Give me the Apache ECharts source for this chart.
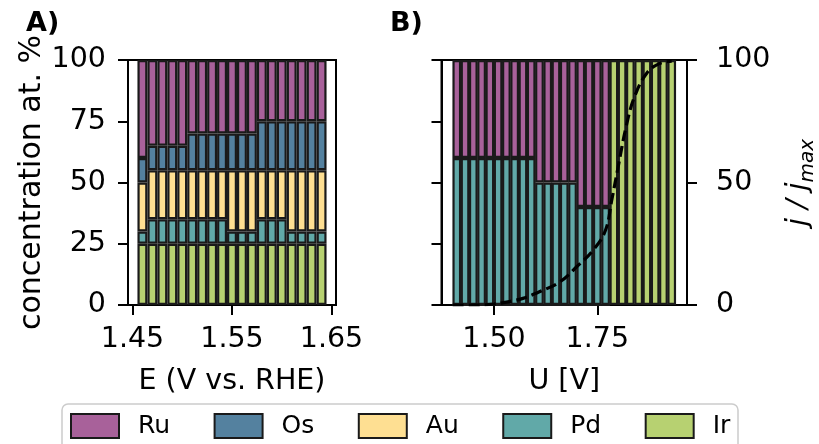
<!DOCTYPE html>
<html>
<head>
<meta charset="utf-8">
<script src="https://cdn.jsdelivr.net/npm/echarts@6/dist/echarts.min.js"></script>
<style>
  html, body { margin: 0; padding: 0; background: #fff; }
  #chart { width: 819px; height: 444px; }
</style>
</head>
<body>
<div id="chart"></div>
<script>
// ---- Panel A: surface composition (at. %) vs. electrode potential ----
const potentialA = [1.46, 1.47, 1.48, 1.49, 1.50, 1.51, 1.52, 1.53, 1.54, 1.55,
                    1.56, 1.57, 1.58, 1.59, 1.60, 1.61, 1.62, 1.63, 1.64];
const irA = [25, 25, 25, 25, 25, 25, 25, 25, 25, 25, 25, 25, 25, 25, 25, 25, 25, 25, 25];
const pdA = [5, 10, 10, 10, 10, 10, 10, 10, 10, 5, 5, 5, 10, 10, 10, 5, 5, 5, 5];
const auA = [20, 20, 20, 20, 20, 20, 20, 20, 20, 25, 25, 25, 20, 20, 20, 25, 25, 25, 25];
const osA = [10, 10, 10, 10, 10, 15, 15, 15, 15, 15, 15, 15, 20, 20, 20, 20, 20, 20, 20];
const ruA = [40, 35, 35, 35, 35, 30, 30, 30, 30, 30, 30, 30, 25, 25, 25, 25, 25, 25, 25];
const ticksA = [1.45, 1.55, 1.65];

// ---- Panel B: composition and normalised current vs. applied voltage ----
const potentialB = [1.41, 1.43, 1.45, 1.47, 1.49, 1.51, 1.53, 1.55, 1.57, 1.59,
                    1.61, 1.63, 1.65, 1.67, 1.69, 1.71, 1.73, 1.75, 1.77, 1.79,
                    1.81, 1.83, 1.85, 1.87, 1.89, 1.91, 1.93];
const pdB = [60, 60, 60, 60, 60, 60, 60, 60, 60, 60, 50, 50, 50, 50, 50, 40, 40, 40, 40,
             0, 0, 0, 0, 0, 0, 0, 0];
const ruB = [40, 40, 40, 40, 40, 40, 40, 40, 40, 40, 50, 50, 50, 50, 50, 60, 60, 60, 60,
             0, 0, 0, 0, 0, 0, 0, 0];
const irB = [0, 0, 0, 0, 0, 0, 0, 0, 0, 0, 0, 0, 0, 0, 0, 0, 0, 0, 0,
             100, 100, 100, 100, 100, 100, 100, 100];
const ticksB = [1.50, 1.75];

// normalised current density j / j_max
const curveU = [1.40, 1.45, 1.50, 1.54, 1.57, 1.61, 1.66, 1.70, 1.74, 1.77,
                1.785, 1.80, 1.82, 1.84, 1.87, 1.90, 1.93];
const curveJ = [0, 0, 0.4, 1.5, 2.7, 5.4, 9.5, 15.6, 22.4, 30.6,
                42.9, 56, 73, 85, 94.7, 98.5, 99.5];

const elements = ['Ru', 'Os', 'Au', 'Pd', 'Ir'];
const colors = { Ru: '#a8619a', Os: '#54819f', Au: '#fedf92', Pd: '#61a9a8', Ir: '#b7d171' };

const FONT = 'DejaVu Sans';
const FS = 28.5;

// plot frames (px)
const gridA = { left: 128, top: 60, width: 208, height: 245 };
const gridB = { left: 441.5, top: 60, width: 259, height: 245 };
const rangeA = [1.4455, 1.6545];
const rangeB = [1.373, 1.967];
const stepA = 0.01, stepB = 0.02;
const barWA = gridA.width * stepA / (rangeA[1] - rangeA[0]);
const barWB = gridB.width * stepB / (rangeB[1] - rangeB[0]);

// value column first so the stack accumulates concentrations, not potentials
const stackRows = (xs, ys) => xs.map((x, i) => [ys[i], x]);
const pairs = (xs, ys) => xs.map((x, i) => [x, ys[i]]);

function barSeries(name, xs, ys, xi, yi, stack, w) {
  return {
    type: 'bar', name, stack, xAxisIndex: xi, yAxisIndex: yi,
    barWidth: w, data: stackRows(xs, ys), encode: { x: 1, y: 0 },
    itemStyle: { color: colors[name], borderColor: '#1a1a1a', borderWidth: 2.2 },
    emphasis: { disabled: true }, animation: false
  };
}

const axisLine = { show: true, onZero: false, lineStyle: { color: '#000', width: 2 } };
const tickStyle = { show: true, inside: false, length: 10, lineStyle: { color: '#000', width: 2 } };
const labelStyle = { color: '#000', fontFamily: FONT, fontSize: FS };

const option = {
  animation: false,
  backgroundColor: '#fff',
  title: [
    { text: 'A)', left: 21, top: 5, textStyle: { fontFamily: FONT, fontSize: 27, fontWeight: 'bold', color: '#000' } },
    { text: 'B)', left: 385, top: 5, textStyle: { fontFamily: FONT, fontSize: 27, fontWeight: 'bold', color: '#000' } }
  ],
  legend: {
    data: elements,
    left: 70, top: 413, padding: 0,
    itemWidth: 48, itemHeight: 24, itemGap: 43.5,
    icon: 'rect',
    selectedMode: false,
    textStyle: { fontFamily: FONT, fontSize: 25, color: '#000', padding: [0, 0, 0, 14] }
  },
  grid: [
    Object.assign({ show: true, borderColor: '#000', borderWidth: 2, backgroundColor: 'transparent' }, gridA),
    Object.assign({ show: true, borderColor: '#000', borderWidth: 2, backgroundColor: 'transparent' }, gridB)
  ],
  xAxis: [
    {
      type: 'value', gridIndex: 0, min: rangeA[0], max: rangeA[1],
      name: 'E (V vs. RHE)', nameLocation: 'middle', nameGap: 62,
      nameTextStyle: labelStyle,
      axisLine, splitLine: { show: false },
      axisTick: Object.assign({ customValues: ticksA }, tickStyle),
      axisLabel: Object.assign({ customValues: ticksA, margin: 20, formatter: v => v.toFixed(2) }, labelStyle)
    },
    {
      type: 'value', gridIndex: 1, min: rangeB[0], max: rangeB[1],
      name: 'U [V]', nameLocation: 'middle', nameGap: 62,
      nameTextStyle: labelStyle,
      axisLine, splitLine: { show: false },
      axisTick: Object.assign({ customValues: ticksB }, tickStyle),
      axisLabel: Object.assign({ customValues: ticksB, margin: 20, formatter: v => v.toFixed(2) }, labelStyle)
    }
  ],
  yAxis: [
    {
      type: 'value', gridIndex: 0, min: 0, max: 100, interval: 25,
      name: 'concentration at. %', nameLocation: 'middle', nameGap: 80, nameRotate: 90,
      nameTextStyle: { color: '#000', fontFamily: FONT, fontSize: 30 },
      axisLine, splitLine: { show: false }, axisTick: tickStyle,
      axisLabel: Object.assign({ margin: 22 }, labelStyle)
    },
    {
      type: 'value', gridIndex: 1, min: 0, max: 100, interval: 25,
      axisLine, splitLine: { show: false }, axisTick: tickStyle,
      axisLabel: { show: false }
    },
    {
      type: 'value', gridIndex: 1, position: 'right', min: 0, max: 100, interval: 50,
      name: '{i|j / j}{s|max}', nameLocation: 'middle', nameGap: 93, nameRotate: 90,
      nameTextStyle: {
        color: '#000', fontFamily: FONT, fontSize: FS,
        rich: {
          i: { fontFamily: FONT, fontSize: FS, fontStyle: 'italic', color: '#000', lineHeight: 38, verticalAlign: 'middle' },
          s: { fontFamily: FONT, fontSize: 20, fontStyle: 'italic', color: '#000', lineHeight: 38, verticalAlign: 'bottom' }
        }
      },
      axisLine, splitLine: { show: false }, axisTick: tickStyle,
      axisLabel: Object.assign({ margin: 29 }, labelStyle)
    }
  ],
  series: [
    barSeries('Ir', potentialA, irA, 0, 0, 'A', barWA),
    barSeries('Pd', potentialA, pdA, 0, 0, 'A', barWA),
    barSeries('Au', potentialA, auA, 0, 0, 'A', barWA),
    barSeries('Os', potentialA, osA, 0, 0, 'A', barWA),
    barSeries('Ru', potentialA, ruA, 0, 0, 'A', barWA),
    barSeries('Ir', potentialB, irB, 1, 1, 'B', barWB),
    barSeries('Pd', potentialB, pdB, 1, 1, 'B', barWB),
    barSeries('Ru', potentialB, ruB, 1, 1, 'B', barWB),
    {
      type: 'line', name: 'j/jmax', xAxisIndex: 1, yAxisIndex: 2,
      data: pairs(curveU, curveJ), smooth: 0.4, showSymbol: false, z: 10,
      lineStyle: { color: '#000', width: 3.2, type: [11, 5] },
      emphasis: { disabled: true }, animation: false
    }
  ],
  graphic: [
    {
      type: 'rect', z: -1, silent: true,
      shape: { x: 62, y: 404, width: 676, height: 60, r: 6 },
      style: { fill: '#fff', stroke: '#cccccc', lineWidth: 1.5 }
    }
  ]
};

const chart = echarts.init(document.getElementById('chart'), null, { renderer: 'canvas' });
chart.setOption(option);
</script>
</body>
</html>
